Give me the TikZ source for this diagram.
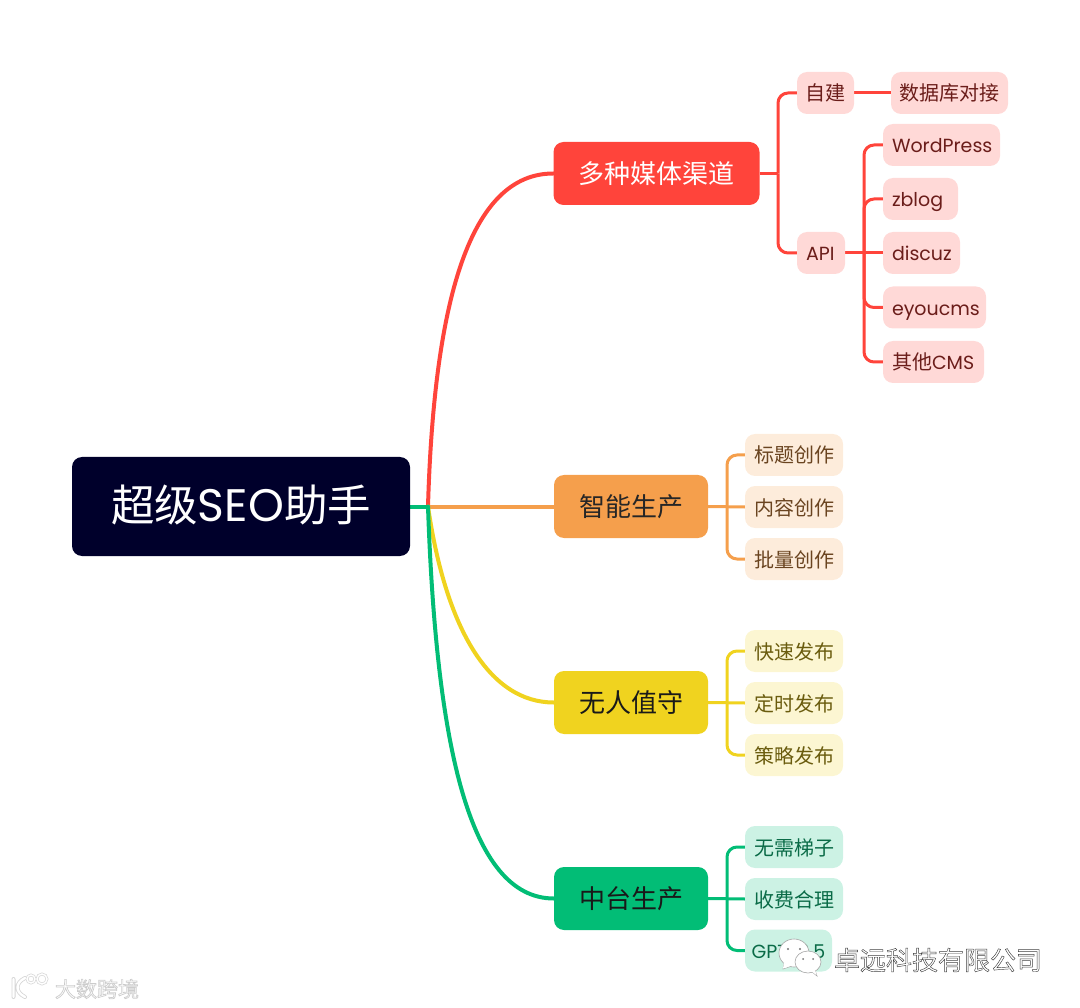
\documentclass[tikz,border=0pt]{standalone}
\usepackage{fontspec}
\setmainfont{Noto Sans CJK SC}
\newfontfamily\lat[Scale=0.95]{Poppins}
\usetikzlibrary{backgrounds}
\definecolor{rootc}{HTML}{00002B}
\definecolor{redc}{HTML}{FF443B}
\definecolor{redl}{HTML}{FFD9D7}
\definecolor{redt}{HTML}{6B1D1A}
\definecolor{orac}{HTML}{F59F4C}
\definecolor{oral}{HTML}{FDECDB}
\definecolor{orat}{HTML}{6A4420}
\definecolor{yelc}{HTML}{F0D31F}
\definecolor{yell}{HTML}{FCF6D2}
\definecolor{yelt}{HTML}{6A5C0E}
\definecolor{grnc}{HTML}{02BD76}
\definecolor{grnl}{HTML}{CCF2E4}
\definecolor{grnt}{HTML}{0A6B47}
\newcommand{\strokedtext}[3]{\special{pdf:code q 2 Tr #1 w #2 G 1 g}#3\special{pdf:code Q}}
\tikzset{
  x=1pt,y=-1pt,
  box/.style={inner sep=0pt,rounded corners=10pt,align=center},
  rootbox/.style={box,fill=rootc,text=white,minimum width=338pt,minimum height=99pt,font=\fontsize{43.5}{43.5}\selectfont,text height=36pt,text depth=6pt},
  mainbox/.style={box,minimum height=63pt,font=\fontsize{26}{26}\selectfont,text height=23pt,text depth=3pt},
  leaf/.style={box,minimum height=42pt,font=\fontsize{20}{20}\selectfont,text height=18pt,text depth=2pt},
  padded/.style={inner xsep=9pt,text width=#1,align=left},
  redleaf/.style={leaf,fill=redl,text=redt},
  oraleaf/.style={leaf,fill=oral,text=orat},
  yelleaf/.style={leaf,fill=yell,text=yelt},
  grnleaf/.style={leaf,fill=grnl,text=grnt},
  link/.style={line width=4pt,line cap=round},
  elbow/.style={line width=3pt,rounded corners=10pt},
  bubble/.style={fill=white,draw=black!35,line width=.6pt},
  logoline/.style={line width=2.4pt,draw=white,line cap=round},
  logoglow/.style={line width=4pt,draw=black!16,line cap=round},
}
\begin{document}
\begin{tikzpicture}
\useasboundingbox (0,0) rectangle (1080,1008);
% root and main branches
\node[rootbox] (root) at (241,506.5) {超级{\fontsize{48}{48}\selectfont\lat SEO}助手};
\node[mainbox,fill=redc,text=white,minimum width=206pt] (media) at (656.5,173.5) {多种媒体渠道};
\node[mainbox,fill=orac,text=black!85,minimum width=154pt] (smart) at (631,506.5) {智能生产};
\node[mainbox,fill=yelc,text=black!90,minimum width=154pt] (auto) at (631,702.5) {无人值守};
\node[mainbox,fill=grnc,text=black!90,minimum width=154pt] (mid) at (631,898.5) {中台生产};
% red leaves
\node[redleaf,minimum width=57pt] (self) at (825.5,93) {自建};
\node[redleaf,minimum width=117pt] (db) at (949.5,93) {数据库对接};
\node[redleaf,padded=30pt] (api) at (821,253) {\lat API};
\node[redleaf,padded=99pt] (wp) at (941.5,145) {\lat WordPress};
\node[redleaf,padded=57pt] (zb) at (920.5,199) {\lat zblog};
\node[redleaf,padded=59pt] (dz) at (921.5,253) {\lat discuz};
\node[redleaf,padded=85pt] (ey) at (934.5,307.5) {\lat eyoucms};
\node[redleaf,padded=83pt] (cms) at (933.5,362) {其他{\lat CMS}};
% orange leaves
\node[oraleaf,minimum width=98pt] (o1) at (794,455) {标题创作};
\node[oraleaf,minimum width=98pt] (o2) at (794,507) {内容创作};
\node[oraleaf,minimum width=98pt] (o3) at (794,559) {批量创作};
% yellow leaves
\node[yelleaf,minimum width=98pt] (y1) at (794,651) {快速发布};
\node[yelleaf,minimum width=98pt] (y2) at (794,703) {定时发布};
\node[yelleaf,minimum width=98pt] (y3) at (794,755) {策略发布};
% green leaves
\node[grnleaf,minimum width=98pt] (g1) at (794,847) {无需梯子};
\node[grnleaf,minimum width=98pt] (g2) at (794,899) {收费合理};
\node[grnleaf,minimum width=87pt] (g3) at (788.5,950.5) {\lat GPT-3.5};
% hubs
\coordinate (hub) at (428,506.5);
\coordinate (hm) at (778,173.5);
\coordinate (ha) at (864,253);
\coordinate (ho) at (727,506.5);
\coordinate (hy) at (727,702.5);
\coordinate (hg) at (727,898.5);
\begin{scope}[on background layer]
  \draw[link,redc] (hub) .. controls (434,300) and (470,173.5) .. (media.west);
  \draw[link,orac] (hub) -- (smart.west);
  \draw[link,yelc] (hub) .. controls (446,630) and (490,702.5) .. (auto.west);
  \draw[link,grnc] (hub) .. controls (436,740) and (468,898.5) .. (mid.west);
  \draw[link,grnc] (root.east) -- (hub);
  \begin{scope}[redc]
    \draw[elbow] (media.east) -- (hm);
    \draw[elbow] (hm) |- (self.west);
    \draw[elbow] (hm) |- (api.west);
    \draw[elbow] (self.east) -- (db.west);
    \draw[elbow] (api.east) -- (dz.west);
    \draw[elbow] (ha) |- (wp.west);
    \draw[elbow] (ha) |- (zb.west);
    \draw[elbow] (ha) |- (ey.west);
    \draw[elbow] (ha) |- (cms.west);
  \end{scope}
  \begin{scope}[orac]
    \draw[elbow] (smart.east) -- (o2.west);
    \draw[elbow] (ho) |- (o1.west);
    \draw[elbow] (ho) |- (o3.west);
  \end{scope}
  \begin{scope}[yelc]
    \draw[elbow] (auto.east) -- (y2.west);
    \draw[elbow] (hy) |- (y1.west);
    \draw[elbow] (hy) |- (y3.west);
  \end{scope}
  \begin{scope}[grnc]
    \draw[elbow] (mid.east) -- (g2.west);
    \draw[elbow] (hg) |- (g1.west);
    \draw[elbow] (hg) |- (g3.west);
  \end{scope}
\end{scope}
% WeChat-style watermark
\draw[bubble] (784,964) -- (783,969) -- (792,966) -- cycle;
\draw[bubble] (794,953) ellipse[x radius=15,y radius=14];
\fill[white] (784,963) -- (783,968.5) -- (792,965.5) -- cycle;
\fill[black!55] (788,949) circle (1.2) (800,949) circle (1.2);
\draw[bubble] (811,971) -- (817,976) -- (815,970) -- cycle;
\draw[bubble] (808,962) ellipse[x radius=13,y radius=11];
\fill[white] (811,971) -- (816.5,975) -- (815,970) -- cycle;
\fill[black!55] (803,959) circle (1) (813,959) circle (1);
\node[inner sep=0pt,text=white,font=\fontsize{26}{26}\selectfont] (corp) at (938,960) {\strokedtext{.45}{.25}{卓远科技有限公司}};
% bottom-left logo watermark
\draw[logoglow] (13.5,979) -- (13.5,997) (25,978) .. controls (15,983) and (15,992) .. (25,997);
\draw[logoglow,line width=2.8pt] (31,979) circle (4) (42,979) circle (5);
\draw[logoline] (13.5,979) -- (13.5,997) (25,978) .. controls (15,983) and (15,992) .. (25,997);
\draw[white,line width=1.4pt] (31,979) circle (4) (42,979) circle (5);
\node[inner sep=0pt,text=white,font=\fontsize{21}{21}\selectfont] (brand) at (97,989) {\strokedtext{.7}{.8}{大数跨境}};
\end{tikzpicture}
\end{document}
